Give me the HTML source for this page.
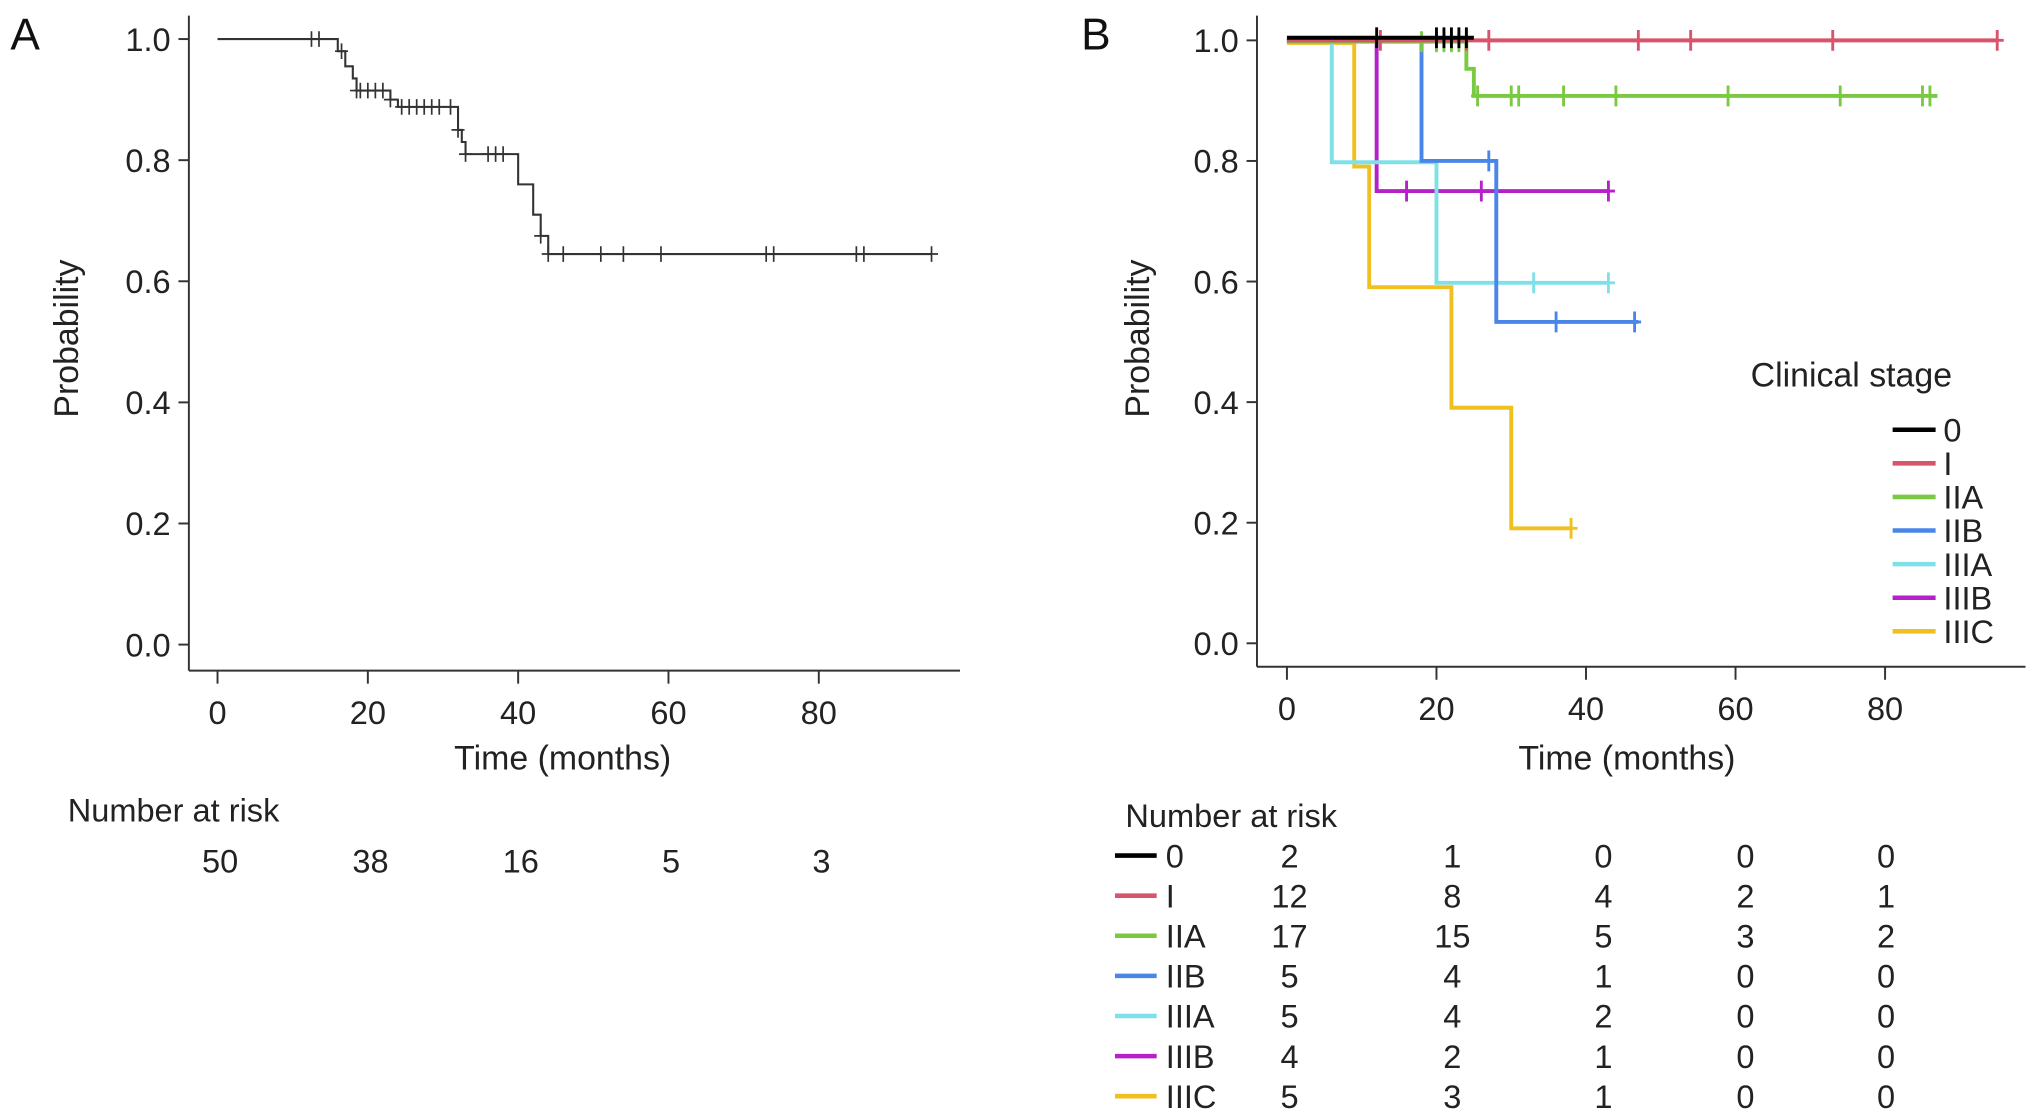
<!DOCTYPE html>
<html><head><meta charset="utf-8"><style>
html,body{margin:0;padding:0;background:#fff;}
svg{display:block;font-family:"Liberation Sans",sans-serif;}
</style></head><body>
<svg id="fig" width="2032" height="1116" viewBox="0 0 1560 857" preserveAspectRatio="none" xmlns="http://www.w3.org/2000/svg"></svg>
<script>
// ---------- Panel A data ----------
const aSteps = [[0,1.0],[16,0.98],[17,0.955],[18,0.935],[18.5,0.915],[23,0.90],[24,0.888],[32,0.85],[32.5,0.83],[33,0.81],[40,0.76],[42,0.71],[43,0.675],[44,0.645]];
const aEnd = 95;
const aCensorT = [12.5,13.5,16.5,18.5,19,20,21,22,23,24.5,25.5,26.5,27.5,28.5,29.5,31,32,33,36,37,38,43,44,46,51,54,59,73,74,85,86,95];
const aRiskTimes = [0,20,40,60,80];
const aRisk = [50,38,16,5,3];
// ---------- Panel B data ----------
const bNames = ["0","I","IIA","IIB","IIIA","IIIB","IIIC"];
const bColors = ["#000000","#d9536a","#7ac943","#4a86e8","#7fe0e8","#b620c8","#f0c020"];
const bOffsets = [2,0,-1,0,-1,0,-2];
const bSteps = [
 [[0,1.0]],
 [[0,1.0]],
 [[0,1.0],[24,0.955],[25,0.91]],
 [[0,1.0],[18,0.8],[28,0.533]],
 [[0,1.0],[6,0.8],[20,0.6]],
 [[0,1.0],[12,0.75]],
 [[0,1.0],[9,0.795],[11,0.595],[22,0.395],[30,0.195]]
];
const bEnds = [25,95,87,47,43,43,38];
const bCensor = [
 [12,20,21,22,23,24],
 [12.5,24,27,47,54,73,95],
 [18,20,21,22,23,25.5,30,31,37,44,59,74,85,86],
 [27,36,46.5],
 [33,43],
 [16,26,43],
 [38]
];
const bRisk = [[2,1,0,0,0],[12,8,4,2,1],[17,15,5,3,2],[5,4,1,0,0],[5,4,2,0,0],[4,2,1,0,0],[5,3,1,0,0]];
const yTicks = [0,0.2,0.4,0.6,0.8,1.0];
const xTicks = [0,20,40,60,80];

const svg = document.getElementById('fig');
const NS = "http://www.w3.org/2000/svg";
function mk(tag, attrs, parent, text){
  const e = document.createElementNS(NS, tag);
  for (const k in attrs) e.setAttribute(k, attrs[k]);
  if (text !== undefined) e.textContent = text;
  (parent||svg).appendChild(e);
  return e;
}
function survAt(steps, t){ let s=steps[0][1]; for(const p of steps){ if(p[0]<=t) s=p[1]; } return s; }
function stepPath(steps, end, X, Y, off){
  let d = "M"+X(steps[0][0])+","+(Y(steps[0][1])-off);
  for(let i=1;i<steps.length;i++){
    d += " H"+X(steps[i][0])+" V"+(Y(steps[i][1])-off);
  }
  d += " H"+X(end);
  return d;
}
const FS = 25;
function panel(cfg){
  const g = mk('g', {}, svg);
  
  
  const X = t => cfg.x0 + t*cfg.px;
  const Y = p => cfg.y0 - p*(cfg.y0 - cfg.y1);
  const ya = mk('line', {x1:cfg.ax, y1:cfg.top, x2:cfg.ax, y2:cfg.ay, stroke:'#333','stroke-width':1.5}, g);
   
  const xa = mk('line', {x1:cfg.ax, y1:cfg.ay, x2:cfg.right, y2:cfg.ay, stroke:'#333','stroke-width':1.5}, g);
   
  yTicks.forEach(v=>{
    mk('line',{x1:cfg.ax-8,y1:Y(v),x2:cfg.ax,y2:Y(v),stroke:'#333','stroke-width':1.5},g);
    const t = mk('text',{x:cfg.ax-14,y:Y(v)+9,'text-anchor':'end','font-size':FS,fill:'#222'},g,v.toFixed(1));
     
  });
  xTicks.forEach(v=>{
    mk('line',{x1:X(v),y1:cfg.ay,x2:X(v),y2:cfg.ay+10,stroke:'#333','stroke-width':1.5},g);
    const t = mk('text',{x:X(v),y:cfg.ay+41,'text-anchor':'middle','font-size':FS,fill:'#222'},g,String(v));
     
  });
  const xt = mk('text',{x:cfg.xtx,y:591,'text-anchor':'middle','font-size':26,fill:'#222'},g,'Time (months)');
   
  const yt = mk('text',{x:0,y:0,'text-anchor':'middle','font-size':26,fill:'#222',transform:`translate(${cfg.ytx},260) rotate(-90)`},g,'Probability');
   
  const pl = mk('text',{x:cfg.lx,y:38,'font-size':34,fill:'#111'},g,cfg.label);
   
  return {g,X,Y};
}

// Panel A
const A = panel({name:'panel-a',x0:167,px:5.77,y0:495,y1:30,ax:145,ay:515,top:12,right:737,xtx:432,ytx:60,lx:8,label:'A'});
const aLine = mk('path',{d:stepPath(aSteps,aEnd,A.X,A.Y,0),fill:'none',stroke:'#333','stroke-width':1.6},A.g);
 
aCensorT.forEach(t=>{
  const y = A.Y(survAt(aSteps,t)), x = A.X(t);
  const c = mk('path',{d:`M${x},${y-6} V${y+6} M${x-5},${y} H${x+5}`,stroke:'#333','stroke-width':1.3},A.g);
   
});
const ar = mk('text',{x:52,y:631,'font-size':FS,fill:'#222'},A.g,'Number at risk');
 
aRisk.forEach((v,i)=>{
  const t = mk('text',{x:A.X(aRiskTimes[i])+2,y:670,'text-anchor':'middle','font-size':FS,fill:'#222'},A.g,String(v));
   
});

// Panel B
const B = panel({name:'panel-b',x0:988,px:5.74,y0:494,y1:31,ax:965,ay:512,top:12,right:1555,xtx:1249,ytx:882,lx:830,label:'B'});
for (let s=bNames.length-1; s>=0; s--){
  const p = mk('path',{d:stepPath(bSteps[s],bEnds[s],B.X,B.Y,bOffsets[s]),fill:'none',stroke:bColors[s],'stroke-width':3},B.g);
  
  
  bCensor[s].forEach(t=>{
    const y = B.Y(survAt(bSteps[s],t))-bOffsets[s], x = B.X(t);
    const c = mk('path',{d:`M${x},${y-8} V${y+8} M${x-5},${y} H${x+5}`,stroke:bColors[s],'stroke-width':2.2},B.g);
     
  });
}
const lg = mk('g',{},B.g);
 
const lt = mk('text',{x:1344,y:297,'font-size':26,fill:'#222'},lg,'Clinical stage');
 
bNames.forEach((n,i)=>{
  const y = 330 + i*25.8;
  const l = mk('line',{x1:1453,y1:y,x2:1486,y2:y,stroke:bColors[i],'stroke-width':3.5},lg);
   
  const t = mk('text',{x:1492,y:y+9,'font-size':FS,fill:'#222'},lg,n);
   
});
const br = mk('text',{x:864,y:635,'font-size':FS,fill:'#222'},B.g,'Number at risk');
 
const bCols = [990,1115,1231,1340,1448];
bNames.forEach((n,i)=>{
  const y = 657 + i*30.8;
  const l = mk('line',{x1:856,y1:y,x2:888,y2:y,stroke:bColors[i],'stroke-width':3.5},B.g);
   
  const t = mk('text',{x:895,y:y+9,'font-size':FS,fill:'#222'},B.g,n);
   
  bRisk[i].forEach((v,j)=>{
    const c = mk('text',{x:bCols[j],y:y+9,'text-anchor':'middle','font-size':FS,fill:'#222'},B.g,String(v));
     
  });
});
</script>
</body></html>
